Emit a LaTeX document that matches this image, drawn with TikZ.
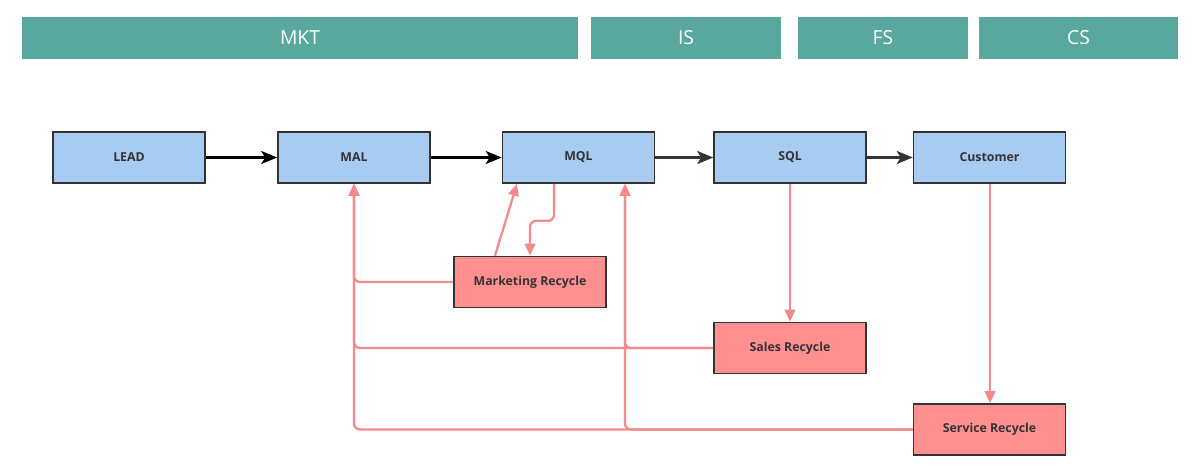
\documentclass[tikz,border=0pt]{standalone}
\usepackage{fontspec}
\setmainfont{Open Sans}
\usetikzlibrary{arrows.meta}
\definecolor{bandteal}{HTML}{58A89D}
\definecolor{stagefill}{HTML}{A8CBF1}
\definecolor{recyfill}{HTML}{FF9090}
\definecolor{recyline}{HTML}{F38A8B}
\definecolor{edgedark}{HTML}{333333}
\tikzset{
  band/.style={rectangle, fill=bandteal, draw=none, minimum height=8.4mm, inner sep=0pt, font=\fontsize{11}{13}\selectfont, text=white},
  stage/.style={rectangle, fill=stagefill, draw=edgedark, line width=0.9pt, minimum width=30.4mm, minimum height=10.2mm, inner sep=0pt, font=\fontsize{7}{8}\selectfont\bfseries, text=edgedark},
  recy/.style={stage, fill=recyfill},
  fwd/.style={-{Stealth[length=3.2mm, width=2.6mm, inset=0.8mm]}, draw=black, line width=1.4pt},
  fwdg/.style={fwd, draw=edgedark},
  back/.style={-{Triangle[length=2.4mm, width=2.1mm]}, draw=recyline, line width=1.3pt, rounded corners=1.2mm},
}
\begin{document}
\begin{tikzpicture}[x=1cm,y=1cm]
  \useasboundingbox (0,0) rectangle (24.000,-9.500);
  % departments
  \node[band, minimum width=111.2mm] (mkt) at (6.000,-0.760) {MKT};
  \node[band, minimum width=38.0mm] (is) at (13.720,-0.760) {IS};
  \node[band, minimum width=34.0mm] (fs) at (17.660,-0.760) {FS};
  \node[band, minimum width=39.8mm] (cs) at (21.570,-0.760) {CS};
  % funnel stages
  \node[stage] (lead) at (2.580,-3.150) {LEAD};
  \node[stage] (mal) at (7.080,-3.150) {MAL};
  \node[stage] (mql) at (11.570,-3.150) {MQL};
  \node[stage] (sql) at (15.800,-3.150) {SQL};
  \node[stage] (cust) at (19.790,-3.150) {Customer};
  % recycle boxes
  \node[recy] (mrec) at (10.600,-5.640) {Marketing Recycle};
  \node[recy] (srec) at (15.800,-6.960) {Sales Recycle};
  \node[recy] (svrec) at (19.790,-8.590) {Service Recycle};
  \draw[fwd] (lead) -- (mal);
  \draw[fwd] (mal) -- (mql);
  \draw[fwdg] (mql) -- (sql);
  \draw[fwdg] (sql) -- (cust);
  % back to MAL / MQL
  \draw[back] (svrec.west) -| (mal.south);
  \draw[back] (svrec.west) -| ([xshift=0.930cm]mql.south);
  \draw[back] (srec.west) -| (mal.south);
  \draw[back] (srec.west) -| ([xshift=0.930cm]mql.south);
  \draw[back] (mrec.west) -| (mal.south);
  \draw[back] ([xshift=-0.700cm]mrec.north) -- ([xshift=-1.230cm]mql.south);
  \draw[back] ([xshift=-0.490cm]mql.south) -- ++(0,-0.740) -| (mrec.north);
  \draw[back] (sql) -- (srec);
  \draw[back] ([xshift=0.010cm]cust.south) -- ([xshift=0.010cm]svrec.north);
\end{tikzpicture}
\end{document}
